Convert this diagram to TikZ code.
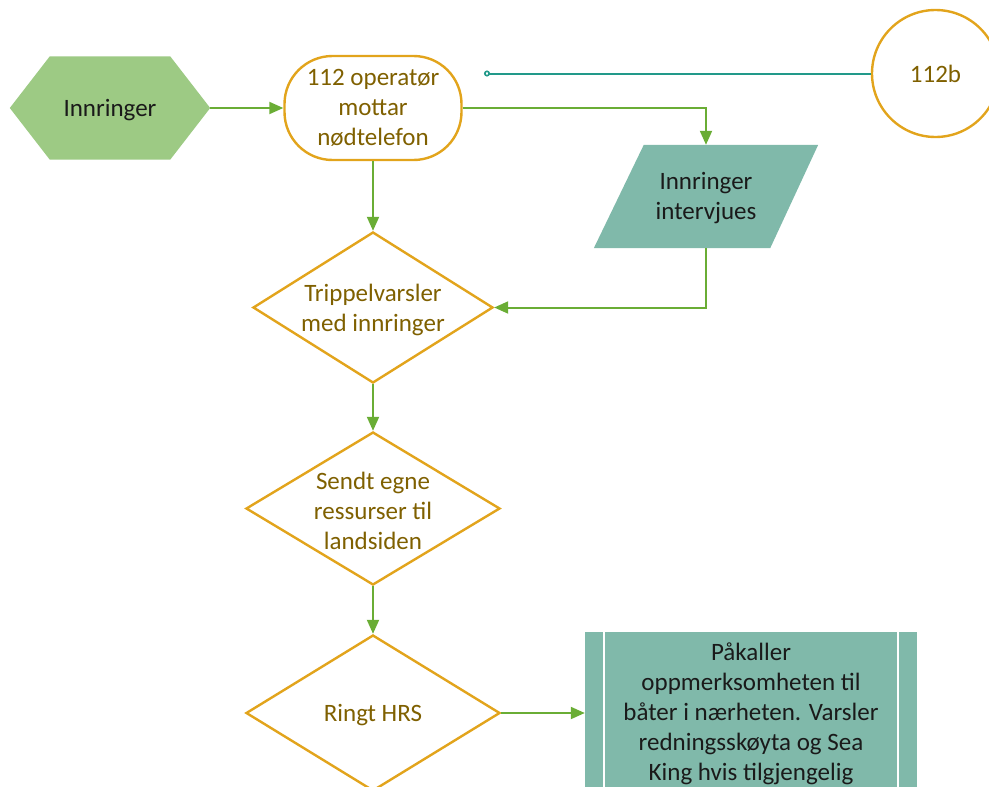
\documentclass[tikz,border=0pt]{standalone}
\usepackage{fontspec}
\setmainfont{Carlito}
\usetikzlibrary{shapes.geometric,arrows.meta,calc}
\definecolor{flowgreen}{HTML}{6AAD35}
\definecolor{hexgreen}{HTML}{9DCA84}
\definecolor{tealfill}{HTML}{80B9AA}
\definecolor{tealline}{HTML}{22998A}
\definecolor{amber}{HTML}{E2A41C}
\definecolor{brown}{HTML}{7F6000}
\definecolor{ink}{HTML}{1A1A1A}
\tikzset{
  txt/.style={font=\fontsize{25}{30}\selectfont, align=center},
  flow/.style={draw=flowgreen, line width=2pt, -{Triangle[length=14pt,width=12pt]}},
  decision/.style={diamond, draw=amber, line width=2.4pt, fill=white, inner sep=0pt},
  dlabel/.style={txt, text=brown},
  terminal/.style={txt, draw=amber, line width=2.4pt, rounded corners=48pt, text=brown,
    minimum width=177pt, minimum height=104pt},
  plainbox/.style={txt, text=ink, inner sep=0pt},
}
\begin{document}
\begin{tikzpicture}[x=1pt,y=-1pt]
\useasboundingbox (0,0) rectangle (989,787);

% start: caller (hexagon)
\node[plainbox, minimum width=200pt, minimum height=103pt] (caller) at (110,108) {};
\fill[hexgreen] (caller.west) -- ($(caller.north west)+(40,0)$) -- ($(caller.north east)+(-40,0)$)
  -- (caller.east) -- ($(caller.south east)+(-40,0)$) -- ($(caller.south west)+(40,0)$) -- cycle;
\node[plainbox] at ($(caller.center)+(0,2)$) {Innringer};

% operator terminal
\node[terminal] (op) at (373,108) {112 operatør\\mottar\\nødtelefon};

% off-page connector
\node[circle, draw=amber, line width=2.4pt, minimum size=127pt, txt, text=brown] (ref) at (935.5,73.5) {112b};
\coordinate (tap) at (484,73.5);
\draw[tealline, line width=2pt, -{Circle[open,length=6pt,width=6pt,line width=1.6pt]}] (ref.west) -- (tap);

% caller interview (parallelogram)
\node[plainbox, minimum width=224pt, minimum height=103pt] (intv) at (706,196.5) {};
\fill[tealfill] (intv.south west) -- ($(intv.north west)+(50,0)$) -- (intv.north east)
  -- ($(intv.south east)+(-48,0)$) -- cycle;
\node[plainbox] at ($(intv.center)+(0,2)$) {Innringer\\intervjues};

% decisions
\node[decision, minimum width=240pt, minimum height=151pt] (d1) at (373,307.5) {};
\node[dlabel] at ($(d1.center)+(0,2)$) {Trippelvarsler\\med innringer};
\node[decision, minimum width=254pt, minimum height=153pt] (d2) at (373,508.5) {};
\node[dlabel] at ($(d2.center)+(0,2)$) {Sendt egne\\ressurser til\\landsiden};
\node[decision, minimum width=254pt, minimum height=156pt] (d3) at (373,713) {};
\node[dlabel] at ($(d3.center)+(0,2)$) {Ringt HRS};

% predefined process
\node[plainbox, fill=tealfill, minimum width=332pt, minimum height=162pt] (call) at (751,713) {};
\draw[white, line width=2pt] ($(call.north west)+(19,0)$) -- ($(call.south west)+(19,0)$);
\draw[white, line width=2pt] ($(call.north east)+(-19,0)$) -- ($(call.south east)+(-19,0)$);
\node[plainbox] at ($(call.center)+(0,1)$) {Påkaller\\oppmerksomheten til\\båter i nærheten. Varsler\\redningsskøyta og Sea\\King hvis tilgjengelig};

% connectors
\draw[flow] (caller.east) -- (op.west);
\draw[flow] (op.east) -| (intv.north);
\draw[flow] (op.south) -- (d1.north);
\draw[flow] (intv.south) |- (d1.east);
\draw[flow] (d1.south) -- (d2.north);
\draw[flow] (d2.south) -- (d3.north);
\draw[flow] (d3.east) -- (call.west);
\end{tikzpicture}
\end{document}
